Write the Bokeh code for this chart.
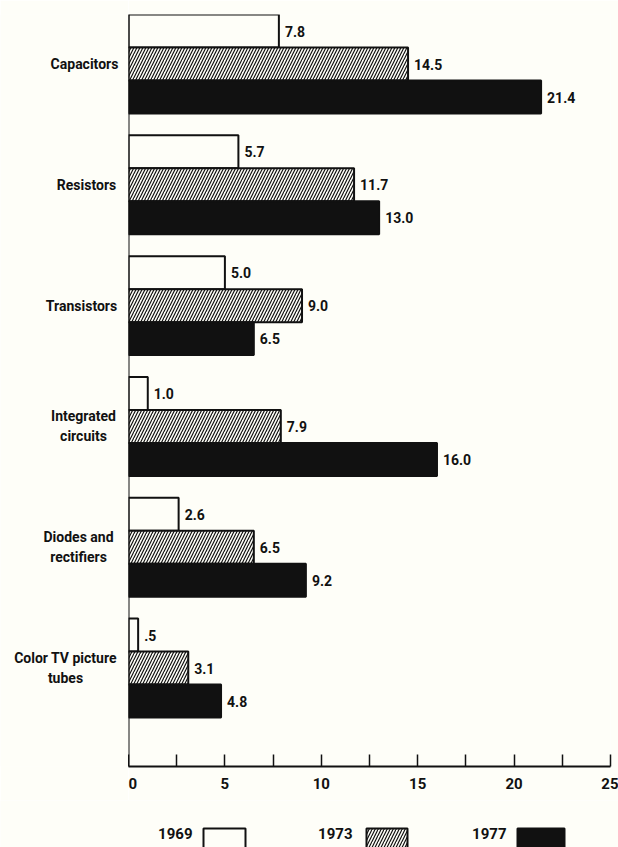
from bokeh.plotting import figure
from bokeh.layouts import column, row
from bokeh.models import Range1d, FixedTicker, ColumnDataSource, Span
from bokeh.core.properties import value
from bokeh.embed import file_html
from bokeh.resources import INLINE

# Data: output of electronic components, by year
categories = ["Capacitors", "Resistors", "Transistors",
              "Integrated\ncircuits", "Diodes and\nrectifiers",
              "Color TV picture\ntubes"]
years = ["1969", "1973", "1977"]
v1969 = [7.8, 5.7, 5.0, 1.0, 2.6, 0.5]
v1973 = [14.5, 11.7, 9.0, 7.9, 6.5, 3.1]
v1977 = [21.4, 13.0, 6.5, 16.0, 9.2, 4.8]
x_ticks = [0, 5, 10, 15, 20, 25]
x_minor_ticks = [2.5, 7.5, 12.5, 17.5, 22.5]

# horizontal centre of each category name in the left panel (pixels)
label_x = [84, 86, 81, 83, 78, 65]

FONT = "Roboto"
WEIGHT = "bold"
BG = "#fefef8"
INK = "#111111"
BAR_H = 0.273  # height of one bar, in group units


def fmt(v):
    s = f"{v:.1f}"
    return s[1:] if s.startswith("0.") else s


pos = list(range(len(categories)))
y_range = Range1d(start=5.815, end=-0.41)

p = figure(width=490, height=800, x_range=Range1d(0, 25), y_range=y_range,
           output_backend="svg", toolbar_location=None,
           min_border_left=0, min_border_right=8, min_border_top=14, min_border_bottom=34,
           background_fill_color=BG, border_fill_color=BG, outline_line_color=None)
p.yaxis.visible = False
p.grid.visible = False

series = [
    (v1969, -BAR_H, dict(fill_color=BG)),
    (v1973, 0.0, dict(fill_color=BG, hatch_pattern="/", hatch_scale=6,
                      hatch_weight=1.2, hatch_color=INK)),
    (v1977, BAR_H, dict(fill_color=INK)),
]
for vals, off, style in series:
    src = ColumnDataSource(dict(
        y=[i + off for i in pos], right=vals, label=[fmt(v) for v in vals]))
    p.hbar(y="y", left=0, right="right", height=BAR_H, source=src,
           line_color=INK, line_width=2, **style)
    p.text(x="right", y="y", text="label", source=src, x_offset=6,
           text_baseline="middle", text_align="left", text_color=INK,
           text_font=value(FONT), text_font_style=WEIGHT, text_font_size="14px")

p.add_layout(Span(location=0, dimension="height", line_color=INK, line_width=2))

ax = p.xaxis[0]
ax.ticker = FixedTicker(ticks=x_ticks, minor_ticks=x_minor_ticks)
ax.axis_line_color = INK
ax.axis_line_width = 2
ax.major_tick_in = 12
ax.major_tick_out = 0
ax.minor_tick_in = 12
ax.minor_tick_out = 0
ax.major_tick_line_width = 1.5
ax.minor_tick_line_width = 1.5
ax.major_tick_line_color = INK
ax.minor_tick_line_color = INK
ax.major_label_standoff = 11
ax.major_label_text_font = FONT
ax.major_label_text_font_style = WEIGHT
ax.major_label_text_font_size = "15px"
ax.major_label_text_color = INK

# Category names, in a narrow panel sharing the vertical scale
lab = figure(width=128, height=800, x_range=Range1d(0, 128), y_range=y_range,
             output_backend="svg", toolbar_location=None,
             min_border_left=0, min_border_right=0, min_border_top=14, min_border_bottom=34,
             background_fill_color=BG, border_fill_color=BG, outline_line_color=None)
lab.axis.visible = False
lab.grid.visible = False
lab.text(x=label_x, y=pos, text=categories, text_align="center",
         text_baseline="middle", text_color=INK, text_font=value(FONT),
         text_font_style=WEIGHT, text_font_size="14px", line_height=1.25)

# Key along the bottom
leg = figure(width=618, height=47, x_range=Range1d(0, 618), y_range=Range1d(47, 0),
             output_backend="svg", toolbar_location=None,
             min_border=0, min_border_left=0, min_border_right=0,
             min_border_top=0, min_border_bottom=0,
             background_fill_color=BG, border_fill_color=BG, outline_line_color=None)
leg.axis.visible = False
leg.grid.visible = False
leg.text(x=[192, 352, 506], y=[33, 33, 33], text=years, text_align="right",
         text_baseline="middle", text_color=INK, text_font=value(FONT),
         text_font_style=WEIGHT, text_font_size="15px")
leg.quad(left=[203], right=[245], top=[28], bottom=[70],
         fill_color=BG, line_color=INK, line_width=2)
leg.quad(left=[366], right=[407], top=[28], bottom=[70],
         fill_color=BG, hatch_pattern="/", hatch_scale=6, hatch_weight=1.2,
         hatch_color=INK, line_color=INK, line_width=2)
leg.quad(left=[517], right=[564], top=[28], bottom=[70],
         fill_color=INK, line_color=INK, line_width=2)

layout = column(row(lab, p, spacing=0), leg, spacing=0)

open("out.html", "w").write(file_html(layout, INLINE))
